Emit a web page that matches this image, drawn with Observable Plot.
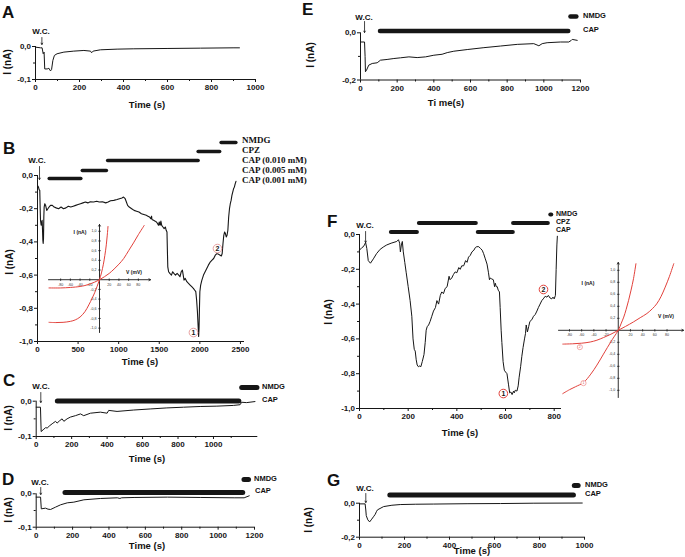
<!DOCTYPE html>
<html><head><meta charset="utf-8">
<script src="https://cdn.jsdelivr.net/npm/d3@7"></script>
<script src="https://cdn.jsdelivr.net/npm/@observablehq/plot@0.6"></script>
<style>
html,body{margin:0;padding:0;background:#fff;}
#fig{position:relative;width:685px;height:557px;overflow:hidden;background:#fff;font-family:"Liberation Sans",Arial,sans-serif;}
.lbl{position:absolute;white-space:nowrap;font-weight:bold;color:#111;line-height:1;}
</style></head><body><div id="fig"></div>
<script>
// ================= DATA =================
// Panel A trace [time s, current nA]
const traceA = [[0,-0.002],[23,-0.004],[30,-0.004],[35,-0.022],[39,-0.017],[42,-0.068],[53,-0.068],[61,-0.066],[68,-0.074],[73,-0.07],[79,-0.042],[86,-0.027],[98,-0.022],[129,-0.017],[174,-0.014],[220,-0.012],[250,-0.014],[255,-0.019],[262,-0.014],[295,-0.010],[371,-0.008],[447,-0.007],[598,-0.006],[750,-0.005],[902,-0.004],[927,-0.004]];
const wcA = [29];

// Panel B trace
const traceB = [[0,-0.06],[12,-0.07],[20,-0.085],[28,-0.09],[33,-0.2],[37,-0.27],[45,-0.3],[52,-0.28],[57,-0.27],[62,-0.33],[66,-0.39],[70,-0.41],[74,-0.38],[78,-0.25],[82,-0.19],[90,-0.17],[100,-0.18],[114,-0.21],[128,-0.2],[142,-0.19],[160,-0.18],[183,-0.18],[205,-0.19],[230,-0.195],[260,-0.2],[290,-0.19],[320,-0.2],[350,-0.195],[380,-0.185],[410,-0.19],[440,-0.185],[470,-0.18],[500,-0.175],[530,-0.17],[560,-0.165],[590,-0.16],[620,-0.165],[650,-0.158],[690,-0.16],[730,-0.155],[760,-0.16],[800,-0.158],[840,-0.165],[870,-0.16],[900,-0.152],[940,-0.15],[980,-0.145],[1010,-0.14],[1040,-0.135],[1060,-0.13],[1080,-0.14],[1095,-0.16],[1110,-0.18],[1130,-0.19],[1160,-0.2],[1190,-0.21],[1220,-0.215],[1250,-0.22],[1280,-0.23],[1310,-0.235],[1340,-0.24],[1360,-0.245],[1380,-0.25],[1395,-0.26],[1405,-0.245],[1410,-0.265],[1430,-0.27],[1450,-0.275],[1465,-0.28],[1480,-0.29],[1490,-0.3],[1500,-0.28],[1510,-0.3],[1520,-0.275],[1530,-0.3],[1545,-0.31],[1560,-0.32],[1575,-0.31],[1585,-0.33],[1595,-0.34],[1600,-0.45],[1605,-0.55],[1615,-0.58],[1630,-0.59],[1650,-0.6],[1665,-0.58],[1680,-0.59],[1700,-0.6],[1720,-0.59],[1740,-0.6],[1755,-0.61],[1770,-0.58],[1785,-0.57],[1795,-0.6],[1805,-0.63],[1820,-0.62],[1840,-0.64],[1860,-0.65],[1880,-0.66],[1900,-0.67],[1920,-0.68],[1935,-0.69],[1950,-0.7],[1960,-0.75],[1970,-0.82],[1978,-0.9],[1985,-0.97],[1990,-0.92],[1995,-0.8],[2000,-0.7],[2010,-0.66],[2025,-0.63],[2045,-0.6],[2065,-0.58],[2085,-0.56],[2105,-0.54],[2130,-0.52],[2150,-0.51],[2170,-0.5],[2190,-0.48],[2210,-0.47],[2230,-0.475],[2250,-0.48],[2265,-0.485],[2275,-0.47],[2285,-0.41],[2295,-0.36],[2305,-0.34],[2315,-0.35],[2325,-0.37],[2335,-0.36],[2345,-0.33],[2355,-0.25],[2365,-0.2],[2375,-0.17],[2385,-0.15],[2395,-0.12],[2405,-0.1],[2415,-0.08],[2425,-0.07],[2435,-0.05],[2445,-0.035]];
const wcB = [25];
const barsB = [
  {label:"CAP (0.001 mM)", start:150, end:540},
  {label:"CAP (0.005 mM)", start:558, end:855},
  {label:"CAP (0.010 mM)", start:870, end:1985},
  {label:"CPZ", start:1985, end:2250},
  {label:"NMDG", start:2268, end:2450}
];
const legendB = ["NMDG","CPZ","CAP (0.010 mM)","CAP (0.005 mM)","CAP (0.001 mM)"];
const marksB = [{n:"1", t:1921, i:-0.946},{n:"2", t:2217, i:-0.44}];
// B inset I-V curves [mV, nA]
const ivB1 = [[-104,-0.88],[-90,-0.885],[-75,-0.88],[-60,-0.86],[-50,-0.83],[-40,-0.77],[-30,-0.66],[-22,-0.52],[-15,-0.38],[-10,-0.27],[-5,-0.14],[0,0],[4,0.14],[8,0.32],[11,0.5],[14,0.72],[16,0.92],[17.5,1.1]];
const ivB2 = [[-104,-0.17],[-80,-0.17],[-60,-0.16],[-40,-0.14],[-30,-0.12],[-20,-0.09],[-10,-0.05],[0,0],[10,0.06],[20,0.13],[30,0.22],[40,0.32],[50,0.44],[60,0.6],[70,0.76],[80,0.93],[92,1.12]];

// Panel C trace
const traceC = [[0,-0.017],[24,-0.017],[28,-0.086],[39,-0.081],[53,-0.075],[62,-0.076],[77,-0.069],[90,-0.064],[109,-0.057],[118,-0.062],[133,-0.055],[146,-0.05],[156,-0.057],[174,-0.05],[193,-0.045],[221,-0.041],[250,-0.036],[268,-0.041],[306,-0.034],[362,-0.031],[400,-0.034],[409,-0.026],[456,-0.029],[550,-0.025],[643,-0.022],[737,-0.019],[831,-0.017],[925,-0.015],[1019,-0.014],[1112,-0.012],[1150,-0.01],[1159,-0.003],[1187,-0.004],[1234,-0.001]];
const wcC = [26];
const barsC = [{label:"CAP", start:122, end:1146},{label:"NMDG", start:1162, end:1248}];

// Panel D trace
const traceD = [[0,-0.01],[24,-0.01],[28,-0.045],[51,-0.043],[65,-0.046],[79,-0.047],[106,-0.04],[134,-0.033],[171,-0.027],[207,-0.025],[262,-0.018],[354,-0.014],[446,-0.012],[460,-0.014],[470,-0.012],[538,-0.011],[721,-0.01],[905,-0.011],[1088,-0.012],[1143,-0.012],[1171,-0.006]];
const wcD = [25];
const barsD = [{label:"CAP", start:161, end:1138},{label:"NMDG", start:1145, end:1170}];

// Panel E trace
const traceE = [[0,-0.039],[22,-0.039],[25,-0.1],[27,-0.165],[33,-0.158],[45,-0.137],[64,-0.13],[91,-0.127],[109,-0.116],[145,-0.113],[182,-0.109],[218,-0.106],[264,-0.102],[309,-0.105],[355,-0.102],[400,-0.095],[445,-0.091],[473,-0.084],[509,-0.078],[582,-0.071],[673,-0.063],[764,-0.056],[855,-0.049],[945,-0.046],[973,-0.055],[991,-0.046],[1018,-0.042],[1091,-0.039],[1136,-0.039],[1150,-0.032],[1155,-0.028],[1182,-0.032]];
const wcE = [22];
const barsE = [{label:"CAP", start:109, end:1136},{label:"NMDG", start:1148, end:1180}];

// Panel F trace
const traceF = [[0,-0.09],[10,-0.075],[16,-0.07],[22,-0.055],[25,-0.045],[30,-0.08],[36,-0.15],[45,-0.165],[57,-0.14],[70,-0.11],[85,-0.085],[100,-0.07],[112,-0.06],[130,-0.05],[153,-0.04],[160,-0.03],[165,-0.05],[168,-0.1],[172,-0.06],[176,-0.04],[180,-0.1],[186,-0.16],[192,-0.22],[200,-0.3],[208,-0.38],[215,-0.47],[220,-0.6],[225,-0.66],[229,-0.67],[233,-0.72],[237,-0.75],[242,-0.76],[248,-0.755],[252,-0.76],[258,-0.73],[265,-0.69],[270,-0.62],[274,-0.55],[278,-0.53],[284,-0.52],[290,-0.5],[297,-0.47],[304,-0.44],[312,-0.42],[318,-0.38],[325,-0.4],[332,-0.35],[338,-0.33],[345,-0.34],[352,-0.31],[360,-0.3],[368,-0.24],[372,-0.26],[379,-0.25],[386,-0.23],[393,-0.215],[400,-0.22],[408,-0.19],[414,-0.2],[420,-0.18],[428,-0.18],[436,-0.15],[442,-0.16],[448,-0.13],[455,-0.12],[462,-0.1],[470,-0.09],[476,-0.075],[482,-0.07],[490,-0.07],[497,-0.08],[504,-0.09],[510,-0.11],[517,-0.14],[524,-0.17],[530,-0.22],[534,-0.26],[537,-0.25],[543,-0.255],[550,-0.26],[555,-0.3],[558,-0.28],[562,-0.3],[566,-0.3],[570,-0.32],[575,-0.33],[578,-0.42],[582,-0.55],[585,-0.62],[590,-0.73],[595,-0.78],[600,-0.79],[606,-0.8],[612,-0.86],[617,-0.91],[622,-0.905],[627,-0.92],[633,-0.9],[636,-0.91],[640,-0.895],[647,-0.9],[652,-0.87],[656,-0.82],[662,-0.76],[667,-0.7],[672,-0.65],[678,-0.6],[682,-0.57],[685,-0.52],[690,-0.56],[695,-0.53],[700,-0.5],[708,-0.49],[715,-0.47],[722,-0.46],[729,-0.44],[735,-0.42],[742,-0.4],[749,-0.38],[755,-0.37],[763,-0.355],[770,-0.36],[776,-0.35],[783,-0.365],[790,-0.37],[795,-0.36],[800,-0.37],[805,-0.35],[808,-0.2],[811,-0.06],[813,-0.01]];
const wcF = [25];
const barsF = [{label:"CAP", start:131, end:238},{label:"CPZ", start:246, end:480},{label:"CAP", start:488, end:632},{label:"CPZ", start:633, end:776},{label:"NMDG", start:786, end:790}];
const legendF = ["NMDG","CPZ","CAP"];
const marksF = [{n:"1", t:591, i:-0.914},{n:"2", t:756, i:-0.316}];
// F inset I-V curves
const ivF1 = [[-91,-1.055],[-80,-0.99],[-70,-0.94],[-57,-0.87],[-45,-0.73],[-35,-0.58],[-25,-0.41],[-18,-0.29],[-12,-0.19],[-7,-0.11],[0,0],[5,0.12],[9,0.22],[13,0.35],[17,0.5],[21,0.67],[25,0.86],[29,1.11]];
const ivF2 = [[-91,-0.23],[-75,-0.225],[-60,-0.215],[-46,-0.195],[-35,-0.165],[-24,-0.12],[-12,-0.065],[0,0],[12,0.065],[25,0.14],[36,0.21],[47,0.28],[56,0.36],[63,0.44],[70,0.56],[77,0.72],[84,0.9],[91,1.11]];
const ivMarksF = [{n:"1", v:-57, i:-0.88},{n:"2", v:-63, i:-0.28}];

// Panel G trace
const traceG = [[0,-0.004],[25,-0.004],[28,-0.04],[30,-0.073],[37,-0.098],[45,-0.11],[52,-0.098],[62,-0.08],[70,-0.065],[75,-0.05],[80,-0.039],[107,-0.02],[144,-0.012],[181,-0.008],[250,-0.006],[330,-0.005],[478,-0.003],[627,-0.002],[775,0.0],[990,0.001]];
const wcG = [28];
const barsG = [{label:"CAP", start:137, end:953},{label:"NMDG", start:957, end:974}];

// Tick values
const ticks1000 = [0,200,400,600,800,1000];
const ticks1200 = [0,200,400,600,800,1000,1200];
const ticksB = [0,500,1000,1500,2000,2500];
const ticksF = [0,200,400,600,800];
const ivVTicks = [-80,-60,-40,-20,20,40,60,80];
const ivITicks = [-1.0,-0.8,-0.6,-0.4,-0.2,0.2,0.4,0.6,0.8,1.0];

// ================= DRAWING =================
const fig = document.getElementById("fig");
const ink = "#161616";
const red = "#e2413b";
const sans = '"Liberation Sans", Arial, sans-serif';
const serif = '"Liberation Serif", "Times New Roman", serif';
const fmtI = d => d.toFixed(1).replace(".", ",");

function addText(txt, x, y, o = {}) {
  const d = document.createElement("div");
  d.className = "lbl";
  d.textContent = txt;
  d.style.left = x + "px"; d.style.top = y + "px";
  d.style.fontSize = (o.size || 8) + "px";
  if (o.serif) d.style.fontFamily = serif;
  let tr = (o.anchor === "start") ? "translate(0,-50%)" : "translate(-50%,-50%)";
  if (o.rotate) tr += ` rotate(${o.rotate}deg)`;
  d.style.transform = tr;
  fig.appendChild(d);
}

// panels: box = svg [L,T,R,B] on page; area = plot frame [x0,y0,x1,y1]
const P = {
  A: {box:[0,0,300,115],   area:[35,46,255,79],      x:[0,1000], y:[-0.1,0]},
  B: {box:[0,128,320,372], area:[37,175,244,341],    x:[0,2550], y:[-1,0]},
  C: {box:[0,375,320,452], area:[35.7,400.7,257.3,436], x:[0,1250], y:[-0.1,0]},
  D: {box:[0,465,320,540], area:[35.7,493.3,254,526.7], x:[0,1200], y:[-0.1,0]},
  E: {box:[300,0,685,95],  area:[360,32.3,580,79.5],  x:[0,1200], y:[-0.2,0]},
  F: {box:[300,205,600,425], area:[359,234,561,408],  x:[0,830],  y:[-1,0]},
  G: {box:[300,470,685,545], area:[359,502.7,584,536.7], x:[0,1000], y:[-0.2,0]}
};
function yAt(p, py) {
  const [, y0, , y1] = p.area, [d0, d1] = p.y;
  return d0 + (y1 - py) / (y1 - y0) * (d1 - d0);
}
function place(chart, box) {
  chart.style.position = "absolute";
  chart.style.left = box[0] + "px";
  chart.style.top = box[1] + "px";
  chart.style.maxWidth = "none";
  chart.style.overflow = "visible";
  fig.appendChild(chart);
}
function mainPanel(p, o) {
  const [L,T,R,B] = p.box, [x0,y0,x1,y1] = p.area;
  const marks = [
    Plot.ruleX([p.x[0]], {stroke: ink, strokeWidth: 1}),
    Plot.ruleY([p.y[0]], {stroke: ink, strokeWidth: 1}),
    Plot.axisX({ticks: o.xTicks, tickSize: 3, tickPadding: 2, tickFormat: d => String(d), label: null, stroke: ink}),
    Plot.axisY({ticks: o.yTicks, tickSize: 3, tickPadding: 1.5, tickFormat: fmtI, label: null, stroke: ink})
  ];
  if (o.xMinor) marks.push(Plot.axisX({ticks: o.xMinor, tickSize: 2, tickFormat: () => "", label: null}));
  if (o.yMinor) marks.push(Plot.axisY({ticks: o.yMinor, tickSize: 2, tickFormat: () => "", label: null}));
  marks.push(Plot.line(o.trace, {x: d => d[0], y: d => d[1], stroke: ink, strokeWidth: o.lw || 1, strokeLinejoin: "round"}));
  if (o.bars) marks.push(Plot.ruleY(o.bars, {x1: "start", x2: "end", y: d => yAt(p, o.lanes[d.label]), stroke: ink, strokeWidth: o.barW || 4, strokeLinecap: "round"}));
  if (o.wc) marks.push(Plot.arrow(o.wc, {x1: d => d, x2: d => d, y1: yAt(p, o.wcY[0]), y2: yAt(p, o.wcY[1]), stroke: ink, strokeWidth: 0.8, headLength: 3}));
  if (o.circles) {
    marks.push(Plot.dot(o.circles, {x: "t", y: "i", r: 4.3, stroke: o.circleColor || red, fill: "white", strokeWidth: 1}));
    marks.push(Plot.text(o.circles, {x: "t", y: "i", text: "n", fontSize: 7, fontWeight: "bold", fill: ink}));
  }
  const chart = Plot.plot({
    width: R - L, height: B - T,
    marginLeft: x0 - L, marginRight: R - x1, marginTop: y0 - T, marginBottom: B - y1,
    x: {domain: p.x}, y: {domain: p.y},
    style: {background: "transparent", overflow: "visible", fontFamily: sans, fontSize: "8px", fontWeight: "bold", color: ink},
    marks
  });
  place(chart, p.box);
}

const vTickSym = {draw(ctx, size) { const r = Math.sqrt(size / Math.PI); ctx.moveTo(0, -r); ctx.lineTo(0, r); }};
const hTickSym = {draw(ctx, size) { const r = Math.sqrt(size / Math.PI); ctx.moveTo(-r, 0); ctx.lineTo(r, 0); }};

function ivInset(box, area, xd, yd, curves, o = {}) {
  const [L,T,R,B] = box, [x0,y0,x1,y1] = area;
  const fs = o.fs || 3.6;
  const marks = [
    Plot.arrow([0], {x1: xd[0], y1: 0, x2: xd[1], y2: 0, stroke: ink, strokeWidth: 0.9, headLength: 3}),
    Plot.arrow([0], {x1: 0, y1: yd[0], x2: 0, y2: yd[1], stroke: ink, strokeWidth: 0.9, headLength: 3}),
    Plot.dot(ivVTicks, {x: d => d, y: 0, symbol: vTickSym, r: 1.3, stroke: ink, strokeWidth: 0.7}),
    Plot.dot(ivITicks, {x: 0, y: d => d, symbol: hTickSym, r: 1.3, stroke: ink, strokeWidth: 0.7}),
    Plot.text(ivVTicks, {x: d => d, y: 0, text: d => String(d), dy: 5, fontSize: fs, fill: "#333"}),
    Plot.text(ivITicks, {x: 0, y: d => d, text: fmtI, dx: -3, textAnchor: "end", fontSize: fs, fill: "#333"})
  ];
  for (const c of curves) marks.push(Plot.line(c, {x: d => d[0], y: d => d[1], stroke: red, strokeWidth: 1, curve: "catmull-rom"}));
  if (o.marks) {
    marks.push(Plot.dot(o.marks, {x: "v", y: "i", r: 2.6, stroke: "#e88", fill: "white", strokeWidth: 0.7}));
    marks.push(Plot.text(o.marks, {x: "v", y: "i", text: "n", fontSize: 3.5, fill: "#c55"}));
  }
  const chart = Plot.plot({
    width: R - L, height: B - T,
    marginLeft: x0 - L, marginRight: R - x1, marginTop: y0 - T, marginBottom: B - y1,
    x: {domain: xd, axis: null}, y: {domain: yd, axis: null},
    style: {background: "transparent", overflow: "visible", fontFamily: sans, fontSize: "4px", color: ink},
    marks
  });
  place(chart, box);
}

// ---- Panel A
mainPanel(P.A, {trace: traceA, xTicks: ticks1000, xMinor: [100,300,500,700,900], yTicks: [0,-0.1], yMinor: [-0.05],
  wc: wcA, wcY: [37, 44]});
addText("A", 2, 12, {size: 17, anchor: "start"});
addText("W.C.", 41, 32, {size: 8});
addText("I (nA)", 8, 62, {size: 10, rotate: -90});
addText("Time (s)", 147, 105, {size: 9.5});

// ---- Panel B
const lanesB = {"NMDG": 142, "CPZ": 151, "CAP (0.010 mM)": 160, "CAP (0.005 mM)": 170, "CAP (0.001 mM)": 178};
mainPanel(P.B, {trace: traceB, lw: 1.1, xTicks: ticksB, yTicks: [0,-0.2,-0.4,-0.6,-0.8,-1.0], yMinor: [-0.1,-0.3,-0.5,-0.7,-0.9],
  bars: barsB, lanes: lanesB, barW: 3.5, wc: wcB, wcY: [166, 179], circles: marksB, circleColor: "#e8a0a0"});
addText("B", 3, 148, {size: 17, anchor: "start"});
addText("W.C.", 37, 161, {size: 8});
legendB.forEach((s, k) => addText(s, 242, 140 + k * 10, {size: 9, serif: true, anchor: "start"}));
addText("I (nA)", 10, 262, {size: 10, rotate: -90});
addText("Time (s)", 140, 362, {size: 9.5});
ivInset([28,214,162,340], [48,224,150,332], [-105,105], [-1.09,1.14], [ivB1, ivB2]);
addText("I (nA)", 80, 232, {size: 5});
addText("V (mV)", 134, 272, {size: 5});

// ---- Panel C
mainPanel(P.C, {trace: traceC, xTicks: ticks1000, xMinor: [100,300,500,700,900,1100], yTicks: [0,-0.1], yMinor: [-0.05],
  bars: barsC, lanes: {"CAP": 400.5, "NMDG": 387}, barW: 5, wc: wcC, wcY: [392, 402]});
addText("C", 3, 380, {size: 17, anchor: "start"});
addText("W.C.", 41, 387, {size: 8});
addText("NMDG", 262, 387, {size: 7.5, anchor: "start"});
addText("CAP", 262, 400, {size: 7.5, anchor: "start"});
addText("I (nA)", 9, 418, {size: 10, rotate: -90});
addText("Time (s)", 147, 459, {size: 9.5});

// ---- Panel D
mainPanel(P.D, {trace: traceD, xTicks: ticks1200, xMinor: [100,300,500,700,900,1100], yTicks: [0,-0.1], yMinor: [-0.05],
  bars: barsD, lanes: {"CAP": 492, "NMDG": 479}, barW: 5, wc: wcD, wcY: [487, 494]});
addText("D", 2, 479, {size: 17, anchor: "start"});
addText("W.C.", 40, 483, {size: 8});
addText("NMDG", 254, 479, {size: 7.5, anchor: "start"});
addText("CAP", 255, 491, {size: 7.5, anchor: "start"});
addText("I (nA)", 9, 510, {size: 10, rotate: -90});
addText("Time (s)", 147, 546, {size: 9.5});

// ---- Panel E
mainPanel(P.E, {trace: traceE, xTicks: ticks1200, xMinor: [100,300,500,700,900,1100], yTicks: [0,-0.2], yMinor: [-0.1],
  bars: barsE, lanes: {"CAP": 30.5, "NMDG": 16}, barW: 4.5, wc: wcE, wcY: [21, 32]});
addText("E", 302, 9, {size: 17, anchor: "start"});
addText("W.C.", 364, 18, {size: 8});
addText("NMDG", 583, 16, {size: 7.5, anchor: "start"});
addText("CAP", 583, 30, {size: 7.5, anchor: "start"});
addText("I (nA)", 311, 55, {size: 10, rotate: -90});
addText("Ti me(s)", 446, 103, {size: 9.5});

// ---- Panel F
mainPanel(P.F, {trace: traceF, xTicks: ticksF, xMinor: [100,300,500,700], yTicks: [0,-0.2,-0.4,-0.6,-0.8,-1.0], yMinor: [-0.1,-0.3,-0.5,-0.7,-0.9],
  bars: barsF, lanes: {"NMDG": 214, "CPZ": 222.5, "CAP": 231.5}, barW: 4, wc: wcF, wcY: [231, 242], circles: marksF});
addText("F", 327, 221, {size: 17, anchor: "start"});
addText("W.C.", 365, 226, {size: 8});
legendF.forEach((s, k) => addText(s, 556, 213 + k * 8, {size: 7, anchor: "start"}));
addText("I (nA)", 329, 312, {size: 10, rotate: -90});
addText("Time (s)", 460, 433, {size: 9.5});
ivInset([548,252,685,402], [558,262,683,397], [-98,107], [-1.12,1.13], [ivF1, ivF2], {marks: ivMarksF});
addText("I (nA)", 588, 283, {size: 5});
addText("V (mV)", 666, 316, {size: 5});

// ---- Panel G
mainPanel(P.G, {trace: traceG, xTicks: ticks1000, xMinor: [100,300,500,700,900], yTicks: [0,-0.2], yMinor: [-0.1],
  bars: barsG, lanes: {"CAP": 494.5, "NMDG": 485}, barW: 5, wc: wcG, wcY: [493, 502]});
addText("G", 327, 480, {size: 17, anchor: "start"});
addText("W.C.", 365, 489, {size: 8});
addText("NMDG", 585, 485, {size: 7.5, anchor: "start"});
addText("CAP", 585, 494, {size: 7.5, anchor: "start"});
addText("I (nA)", 309, 520, {size: 10, rotate: -90});
addText("Time (s)", 472, 551, {size: 9.5});
</script></body></html>
